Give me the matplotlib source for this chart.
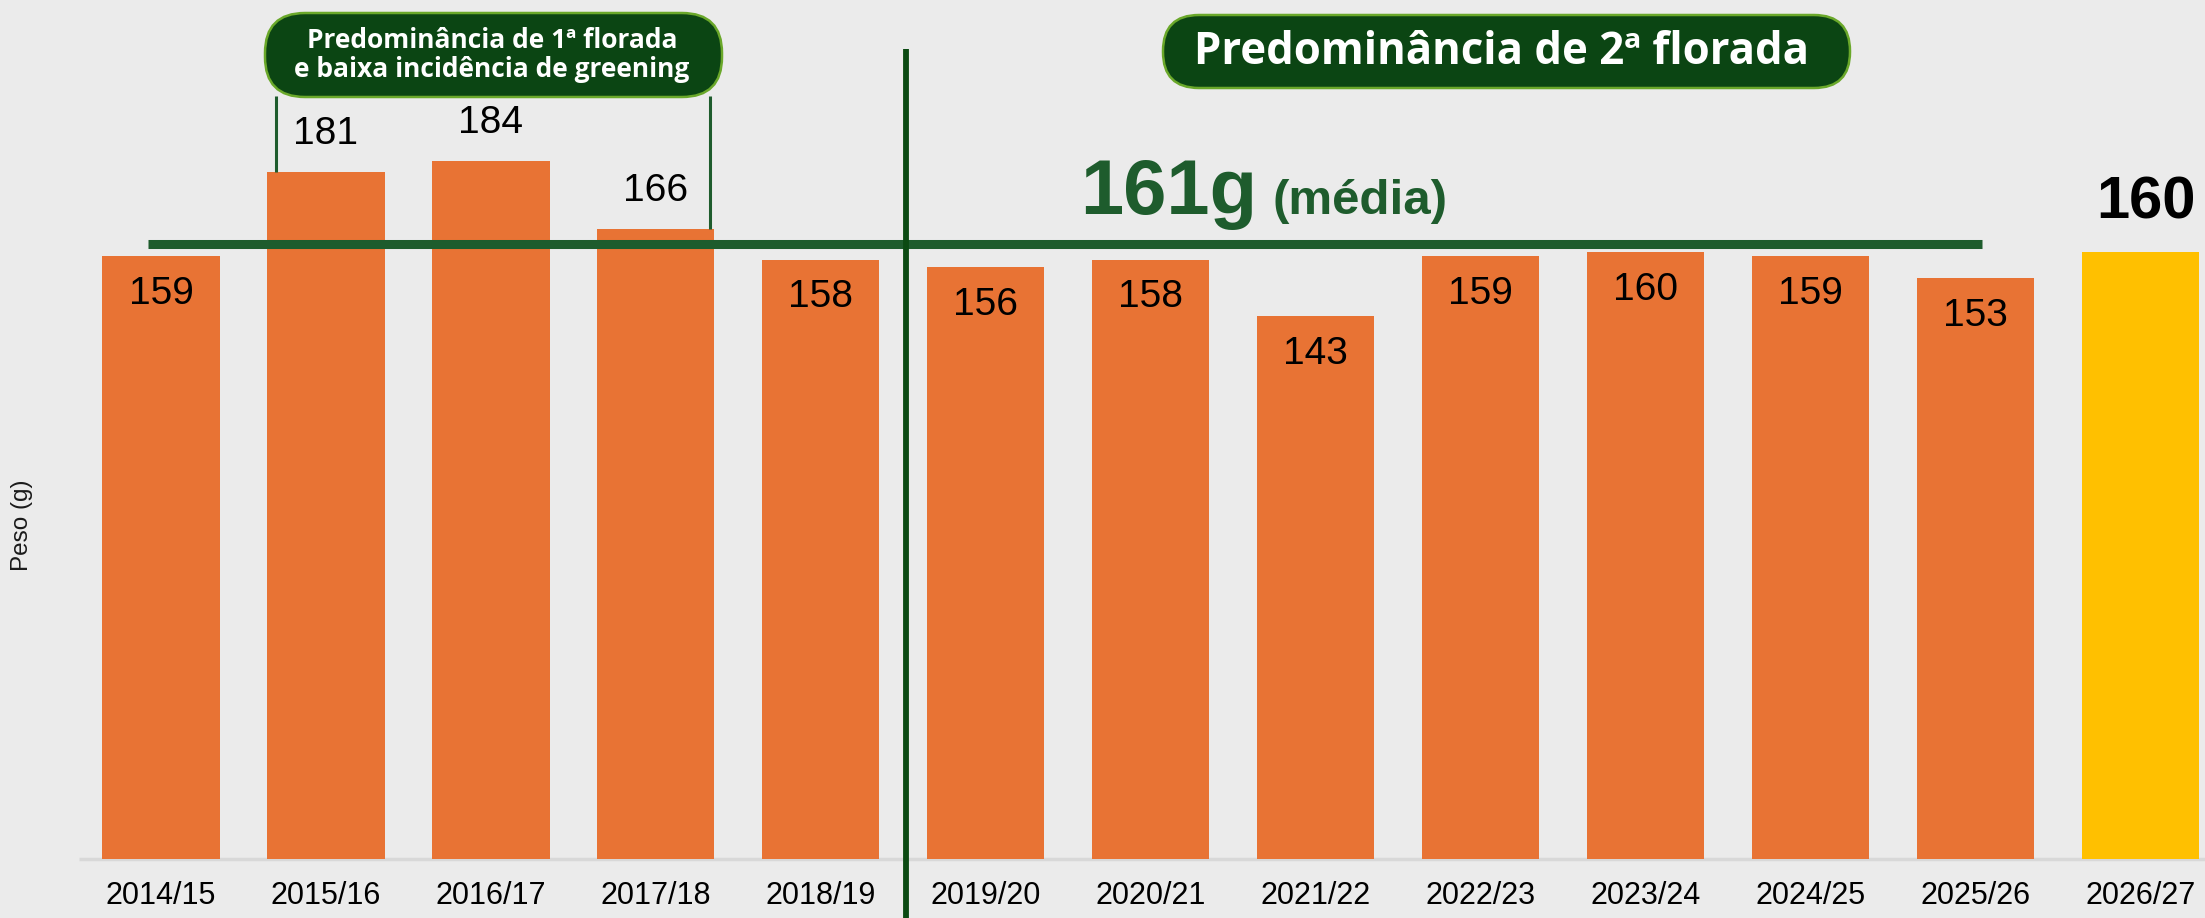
import matplotlib
matplotlib.use('Agg')
import matplotlib.pyplot as plt
from matplotlib.patches import FancyBboxPatch
from matplotlib.transforms import IdentityTransform

# --- data -------------------------------------------------------------------
safras = ['2014/15', '2015/16', '2016/17', '2017/18', '2018/19', '2019/20',
          '2020/21', '2021/22', '2022/23', '2023/24', '2024/25', '2025/26',
          '2026/27']
peso = [159, 181, 184, 166, 158, 156, 158, 143, 159, 160, 159, 153, 160]
media = 161
rotulos_acima = ['2015/16', '2016/17', '2017/18']   # labels drawn above the bar
safra_projecao = '2026/27'

# --- layout / style ---------------------------------------------------------
W, H = 2205, 918
bg = '#ebebeb'
laranja = '#e87334'
amarelo = '#ffc000'
verde = '#1e5c2d'
verde_escuro = '#0b4513'
borda_box = '#6aa82a'

fig = plt.figure(figsize=(W / 100, H / 100), dpi=100)
fig.patch.set_facecolor(bg)
ax = fig.add_axes([0, 0, 1, 1])
ax.set_facecolor(bg)
ax.axis('off')
ax.set_xlim(-0.976, 12.39)
ax.set_ylim(-15.55, 226.4)

x = list(range(len(safras)))
cores = [amarelo if s == safra_projecao else laranja for s in safras]
ax.bar(x, peso, width=0.71, color=cores, zorder=2)

# baseline
ax.hlines(0, -0.5, 12.6, color='#d8d8d8', lw=2.5, zorder=1)

# value labels
for i, (s, v) in enumerate(zip(safras, peso)):
    if s == safra_projecao:
        ax.text(i + 0.03, v + 13, str(v), ha='center', va='center', fontsize=43,
                fontweight='bold', family='Liberation Sans', color='black', zorder=5)
    elif s in rotulos_acima:
        ax.text(i, v + 10, str(v), ha='center', va='center', fontsize=28,
                family='Liberation Sans', color='black', zorder=5)
    else:
        ax.text(i, v - 10, str(v), ha='center', va='center', fontsize=28,
                family='Liberation Sans', color='black', zorder=5)
    ax.text(i, -9.75, s, ha='center', va='center', fontsize=22,
            family='Liberation Sans', color='black')

# mean line
ax.hlines(media + 1, -0.08, 11.04, color=verde, lw=6.5, zorder=4)
ax.text(5.57, 170, f'{media}g', ha='left', va='baseline', fontsize=56,
        fontweight='bold', family='Liberation Sans', color=verde)
ax.text(6.74, 170, '(média)', ha='left', va='baseline', fontsize=35.5,
        fontweight='bold', family='Liberation Sans', color=verde)

# divider between periods
ax.vlines(4.515, -16, 213.5, color='#0b4a12', lw=4.2, zorder=4, clip_on=False)

# bracket lines for first period
ax.vlines(0.70, peso[1], 201, color=verde, lw=2.2, zorder=3)
ax.vlines(3.33, peso[3], 201, color=verde, lw=2.2, zorder=3)


def caixa(x0, y0, x1, y1, r):
    p = FancyBboxPatch((x0, H - y1), x1 - x0, y1 - y0,
                       boxstyle=f'round,pad=0,rounding_size={r}',
                       facecolor=verde_escuro, edgecolor=borda_box, lw=1.8,
                       transform=IdentityTransform(), zorder=6)
    fig.add_artist(p)


caixa(265, 13, 722, 97, 40)
fig.text(492 / W, 1 - 55 / H, 'Predominância de 1ª florada\ne baixa incidência de greening',
         ha='center', va='center', color='white', fontsize=19, fontweight='bold',
         family='Open Sans', linespacing=1.05, zorder=7)

caixa(1163, 15, 1850, 88, 36)
fig.text(1502 / W, 1 - 53 / H, 'Predominância de 2ª florada',
         ha='center', va='center', color='white', fontsize=31.5, fontweight='bold',
         family='Open Sans', zorder=7)

# y label
ax.text(-0.84, 88, 'Peso (g)', rotation=90, ha='center', va='center',
        fontsize=17.5, family='Liberation Sans', color='#1a1a1a')

fig.savefig('out.png', dpi=100, facecolor=bg)
plt.close(fig)
